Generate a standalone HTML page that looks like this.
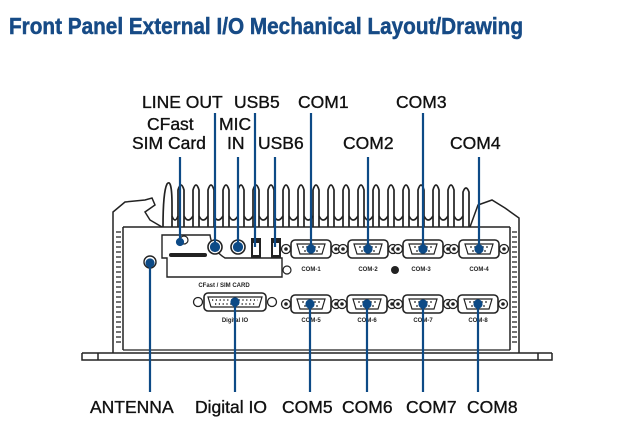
<!DOCTYPE html>
<html><head><meta charset="utf-8"><style>
html,body{margin:0;padding:0;background:#fff;}
svg{display:block;}
</style></head><body>
<svg width="623" height="432" viewBox="0 0 623 432" xmlns="http://www.w3.org/2000/svg">
<defs>
<g id="db9">
  <circle cx="-25" cy="0" r="4.5" fill="#fff" stroke="#222" stroke-width="1.3"/>
  <circle cx="-25" cy="0" r="1.8" fill="#222"/>
  <circle cx="25" cy="0" r="4.5" fill="#fff" stroke="#222" stroke-width="1.3"/>
  <circle cx="25" cy="0" r="1.8" fill="#222"/>
  <rect x="-20" y="-9" width="40" height="18" rx="4" fill="#fff" stroke="#222" stroke-width="1.6"/>
  <path d="M-14,-5 L14,-5 L11,5 L-11,5 Z" fill="#fff" stroke="#222" stroke-width="1.2"/>
  <g fill="#222"><circle cx="-8" cy="-2" r="0.9"/><circle cx="-4" cy="-2" r="0.9"/><circle cx="0" cy="-2" r="0.9"/><circle cx="4" cy="-2" r="0.9"/><circle cx="8" cy="-2" r="0.9"/><circle cx="-6" cy="2" r="0.9"/><circle cx="-2" cy="2" r="0.9"/><circle cx="2" cy="2" r="0.9"/><circle cx="6" cy="2" r="0.9"/></g>
</g>
</defs>
<text x="9" y="34" font-family="Liberation Sans, sans-serif" font-weight="bold" font-size="23" fill="#174b86" stroke="#174b86" stroke-width="0.5" textLength="514" lengthAdjust="spacingAndGlyphs">Front Panel External I/O Mechanical Layout/Drawing</text>

<!-- chassis -->
<g fill="none" stroke="#222" stroke-width="1.7">
  <path d="M163,227 C163,205 164,190 167,184 C170,180 172,186 172,205 L172,227" />
  <path d="M178,227 V190 Q181,180 184,190 V227 M193,227 V190 Q196,180 199,190 V227 M208,227 V190 Q211,180 214,190 V227 M223,227 V190 Q226,180 229,190 V227 M238,227 V190 Q241,180 244,190 V227 M253,227 V190 Q256,180 259,190 V227 M268,227 V190 Q271,180 274,190 V227 M283,227 V190 Q286,180 289,190 V227 M298,227 V190 Q301,180 304,190 V227 M313,227 V190 Q316,180 319,190 V227 M328,227 V190 Q331,180 334,190 V227 M343,227 V190 Q346,180 349,190 V227 M358,227 V190 Q361,180 364,190 V227 M373,227 V190 Q376,180 379,190 V227 M388,227 V190 Q391,180 394,190 V227 M403,227 V190 Q406,180 409,190 V227 M418,227 V190 Q421,180 424,190 V227 M433,227 V190 Q436,180 439,190 V227 M448,227 V190 Q451,180 454,190 V227 M463,227 V192 Q466,184 469,192 V227"/>
  <path d="M172,216 Q175,224 178,216 M184,216 Q188,224 193,216 M199,216 Q203,224 208,216 M214,216 Q218,224 223,216 M229,216 Q233,224 238,216 M244,216 Q248,224 253,216 M259,216 Q263,224 268,216 M274,216 Q278,224 283,216 M289,216 Q293,224 298,216 M304,216 Q308,224 313,216 M319,216 Q323,224 328,216 M334,216 Q338,224 343,216 M349,216 Q353,224 358,216 M364,216 Q368,224 373,216 M379,216 Q383,224 388,216 M394,216 Q398,224 403,216 M409,216 Q413,224 418,216 M424,216 Q428,224 433,216 M439,216 Q443,224 448,216 M454,216 Q458,224 463,216"/>
</g>
<g fill="none" stroke="#222" stroke-width="1.5">
  <path d="M123,227 H510 M123,227 V350 M510,227 V350"/>
  <path d="M113,353 V212 L125,202 L145,200 L152,198 L155,205 L145,212 L150,220 L162,227"/>
  <path d="M470,227 L478,205 L492,200 L505,208 L519,218 V353"/>
  <path d="M82,353 H552 M82,353 V360 H552 V353 M98,353 V360 M538,353 V360"/>
  <path d="M123,350 H510" stroke-width="1.2"/>
</g>
<g stroke="#222" stroke-width="1.2">
  <path d="M116,232 H121 M116,237 H121 M116,242 H121 M116,247 H121 M116,252 H121 M116,257 H121 M116,262 H121 M116,267 H121 M116,272 H121 M116,277 H121 M116,282 H121 M116,287 H121 M116,292 H121 M116,297 H121 M116,302 H121 M116,307 H121 M116,312 H121 M116,317 H121 M116,322 H121 M116,327 H121 M116,332 H121 M116,337 H121 M116,342 H121"/>
  <path d="M512,232 H517 M512,237 H517 M512,242 H517 M512,247 H517 M512,252 H517 M512,257 H517 M512,262 H517 M512,267 H517 M512,272 H517 M512,277 H517 M512,282 H517 M512,287 H517 M512,292 H517 M512,297 H517 M512,302 H517 M512,307 H517 M512,312 H517 M512,317 H517 M512,322 H517 M512,327 H517 M512,332 H517 M512,337 H517 M512,342 H517"/>
</g>

<path d="M162,235 H210 Q212,250 225,258 H282 V277 H167 V258 H162 Z" fill="none" stroke="#222" stroke-width="1.4"/>
<rect x="169" y="253" width="38" height="4" rx="2" fill="#222"/>
<circle cx="184" cy="240" r="4" fill="none" stroke="#222" stroke-width="1.2"/>
<text x="224" y="287" font-family="Liberation Sans, sans-serif" font-weight="bold" font-size="6" fill="#222" text-anchor="middle">CFast / SIM CARD</text>
<circle cx="150" cy="262" r="6" fill="#fff" stroke="#222" stroke-width="1.4"/>
<circle cx="215" cy="247" r="7" fill="#fff" stroke="#222" stroke-width="1.6"/>
<circle cx="238" cy="247" r="7" fill="#fff" stroke="#222" stroke-width="1.6"/>
<rect x="251" y="238" width="10" height="20" fill="#222"/>
<rect x="271" y="238" width="10" height="20" fill="#222"/>
<rect x="253" y="243" width="6" height="12" fill="#fff"/>
<rect x="273" y="243" width="6" height="12" fill="#fff"/>
<circle cx="287" cy="270" r="4" fill="none" stroke="#222" stroke-width="1.2"/>
<circle cx="395" cy="270" r="4" fill="#222"/>

<use href="#db9" x="311" y="249"/>
<use href="#db9" x="368" y="249"/>
<use href="#db9" x="423" y="249"/>
<use href="#db9" x="479" y="249"/>
<use href="#db9" x="311" y="304"/>
<use href="#db9" x="367" y="304"/>
<use href="#db9" x="423" y="304"/>
<use href="#db9" x="478" y="304"/>
<g>
  <circle cx="198" cy="302" r="4.5" fill="#fff" stroke="#222" stroke-width="1.3"/>
  <circle cx="272" cy="302" r="4.5" fill="#fff" stroke="#222" stroke-width="1.3"/>
  <rect x="204" y="293" width="62" height="18" rx="4" fill="#fff" stroke="#222" stroke-width="1.6"/>
  <path d="M208,297 H262 L259,307 H211 Z" fill="none" stroke="#222" stroke-width="1.2"/>
  <path d="M212,300 H258 M215,304 H255" stroke="#222" stroke-width="1.6" stroke-dasharray="1.2,2.6"/>
</g>
<g font-family="Liberation Sans, sans-serif" font-weight="bold" font-size="6" fill="#222" text-anchor="middle">
  <text x="311" y="271">COM-1</text><text x="368" y="271">COM-2</text><text x="421" y="271">COM-3</text><text x="479" y="271">COM-4</text>
  <text x="235" y="322">Digital IO</text>
  <text x="311" y="322">COM-5</text><text x="367" y="322">COM-6</text><text x="423" y="322">COM-7</text><text x="478" y="322">COM-8</text>
</g>

<g stroke="#0d4a86" stroke-width="2.2" fill="#0d4a86">
  <line x1="180" y1="157" x2="180" y2="242"/><circle cx="180" cy="242" r="3"/>
  <line x1="215" y1="113" x2="215" y2="247"/><circle cx="215" cy="247" r="4"/>
  <line x1="238" y1="157" x2="238" y2="247"/><circle cx="238" cy="247" r="4"/>
  <line x1="255" y1="113" x2="255" y2="247"/>
  <line x1="275" y1="157" x2="275" y2="247"/>
  <line x1="311" y1="113" x2="311" y2="249"/><circle cx="311" cy="249" r="3.5"/>
  <line x1="368" y1="157" x2="368" y2="249"/><circle cx="368" cy="249" r="3.5"/>
  <line x1="423" y1="113" x2="423" y2="249"/><circle cx="423" cy="249" r="3.5"/>
  <line x1="479" y1="157" x2="479" y2="249"/><circle cx="479" cy="249" r="3.5"/>
  <line x1="150" y1="263" x2="150" y2="392"/><circle cx="150" cy="263" r="3.5"/>
  <line x1="235" y1="302" x2="235" y2="392"/><circle cx="235" cy="302" r="3.5"/>
  <line x1="310" y1="304" x2="310" y2="392"/><circle cx="310" cy="304" r="3.5"/>
  <line x1="367" y1="304" x2="367" y2="392"/><circle cx="367" cy="304" r="3.5"/>
  <line x1="423" y1="304" x2="423" y2="392"/><circle cx="423" cy="304" r="3.5"/>
  <line x1="478" y1="304" x2="478" y2="392"/><circle cx="478" cy="304" r="3.5"/>
</g>

<g font-family="Liberation Sans, sans-serif" font-size="17.5" fill="#111" stroke="#111" stroke-width="0.35">
  <text x="142" y="108">LINE OUT</text>
  <text x="234" y="108">USB5</text>
  <text x="298" y="108">COM1</text>
  <text x="396" y="108">COM3</text>
  <text x="147" y="130">CFast</text>
  <text x="219" y="130">MIC</text>
  <text x="132" y="149">SIM Card</text>
  <text x="227" y="149">IN</text>
  <text x="258" y="149">USB6</text>
  <text x="343" y="149">COM2</text>
  <text x="450" y="149">COM4</text>
  <text x="90" y="413">ANTENNA</text>
  <text x="195" y="413">Digital IO</text>
  <text x="282" y="413">COM5</text>
  <text x="342" y="413">COM6</text>
  <text x="406" y="413">COM7</text>
  <text x="467" y="413">COM8</text>
</g>
</svg>
</body></html>
